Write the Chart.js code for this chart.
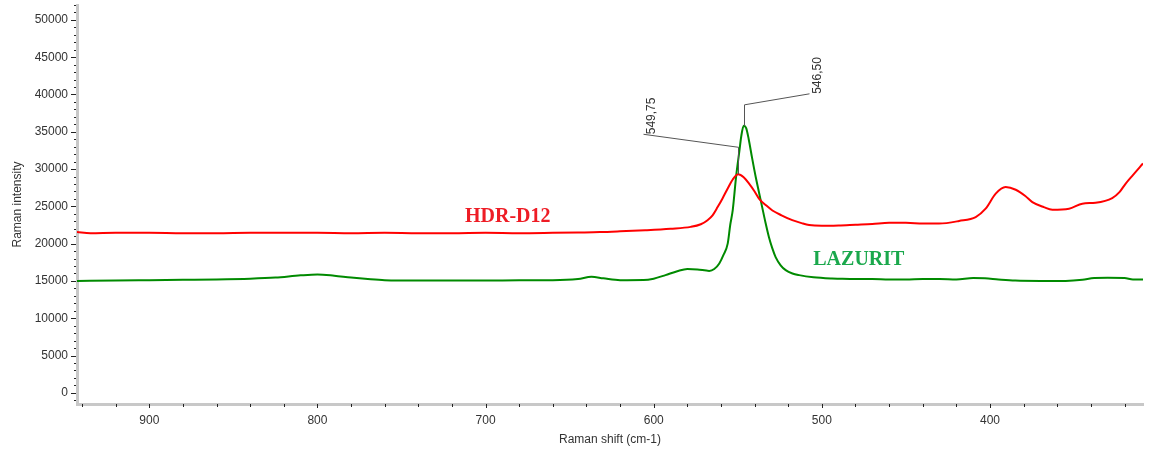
<!DOCTYPE html>
<html>
<head>
<meta charset="utf-8">
<script src="https://cdn.jsdelivr.net/npm/chart.js@4"></script>
<style>
  html, body { margin: 0; padding: 0; background: #fff; }
  #wrap { width: 1154px; height: 452px; }
</style>
</head>
<body>
<div id="wrap"><canvas id="raman"></canvas></div>
<script>
// HDR-D12 spectrum (red)
const hdrShift = [943, 935, 920, 900, 880, 860, 840, 820, 800, 780, 760, 740, 720, 700, 680, 660, 645, 632, 620, 605, 590, 578, 572, 568, 565, 562, 559, 556, 553, 549.75, 546.5, 543.3, 540, 537.4, 533, 529.4, 524, 517.6, 512, 507.6, 500, 490, 480, 470, 460, 450, 440, 430.3, 418.4, 408.5, 402.6, 396.6, 390.7, 384.7, 379, 374.8, 368, 362.9, 353, 345.1, 337.2, 327.3, 323, 319.4, 315, 309];
const hdrIntensity = [21550, 21400, 21450, 21450, 21400, 21400, 21450, 21450, 21450, 21400, 21450, 21400, 21400, 21450, 21400, 21450, 21500, 21550, 21650, 21800, 22000, 22250, 22600, 23150, 23800, 24900, 26100, 27400, 28600, 29300, 28900, 28050, 27000, 26050, 25100, 24450, 23800, 23150, 22750, 22500, 22400, 22450, 22550, 22650, 22800, 22800, 22700, 22690, 23040, 23570, 24690, 26700, 27580, 27230, 26400, 25580, 24900, 24560, 24690, 25360, 25490, 26110, 26900, 28030, 29200, 30750];

// LAZURIT spectrum (green)
const lazShift = [943, 920, 900, 880, 860, 840, 825, 810, 800, 790, 780, 770, 760, 740, 720, 700, 680, 660, 645, 637, 630, 620, 606, 600, 593, 586, 580, 574, 567, 564, 561, 558.5, 556, 554.5, 553, 551, 549, 548, 546.5, 545, 543.5, 541.5, 539.3, 537.5, 535.5, 533.5, 531.5, 529.5, 527.5, 524.5, 521.5, 517.5, 513.5, 505, 494, 490, 480, 470, 460, 450, 440, 430, 420, 410, 403, 395, 385, 370, 355, 345, 338, 330, 320, 315, 309];
const lazIntensity = [15000, 15050, 15100, 15150, 15200, 15300, 15450, 15750, 15870, 15700, 15450, 15250, 15100, 15050, 15050, 15050, 15100, 15100, 15250, 15550, 15350, 15100, 15110, 15300, 15780, 16300, 16600, 16550, 16350, 16600, 17350, 18500, 20000, 22500, 24500, 29000, 32500, 34300, 35800, 35500, 34000, 31500, 28900, 27000, 24900, 22800, 20900, 19400, 18200, 17100, 16450, 16000, 15780, 15500, 15330, 15300, 15250, 15250, 15200, 15200, 15250, 15250, 15200, 15400, 15350, 15200, 15050, 15000, 15000, 15150, 15400, 15420, 15400, 15200, 15200];

// peak annotations
const peakShift = [549.75, 546.50];
const peakIntensity = [29300, 35800];
const peakLabel = ['549,75', '546,50'];

// series names written on the plot
const seriesName = ['HDR-D12', 'LAZURIT'];
const seriesNameAt = [[686.8, 23640], [478, 17810]];
const seriesNameColor = ['#ee1c25', '#1aa84c'];

const yTicks = [];
for (let v = -1000; v <= 52000; v += 1000) yTicks.push(v);
const xTicks = [];
for (let v = 320; v <= 940; v += 20) xTicks.push(v);

function toPoints(xs, ys) {
  return xs.map((x, i) => ({ x: x, y: ys[i] }));
}

const tickMarks = {
  id: 'tickMarks',
  afterDraw(chart) {
    const { ctx, scales: { x, y } } = chart;
    ctx.save();
    ctx.strokeStyle = '#222';
    ctx.lineWidth = 1;
    ctx.beginPath();
    y.ticks.forEach(t => {
      const py = Math.round(y.getPixelForValue(t.value)) + 0.5;
      const len = t.value % 5000 === 0 ? 5 : 2;
      ctx.moveTo(y.right - 1 - len, py);
      ctx.lineTo(y.right - 1, py);
    });
    x.ticks.forEach(t => {
      const px = Math.round(x.getPixelForValue(t.value)) + 0.5;
      const len = t.value % 100 === 0 ? 4 : 3;
      ctx.moveTo(px, x.top);
      ctx.lineTo(px, x.top + len);
    });
    ctx.stroke();
    ctx.restore();
  }
};

const peakNotes = {
  id: 'peakNotes',
  afterDatasetsDraw(chart) {
    const { ctx, scales: { x, y } } = chart;
    const rise = [27, 21];
    const reach = [[-95, -13], [65, -11]];
    ctx.save();
    ctx.strokeStyle = '#555';
    ctx.lineWidth = 1;
    ctx.fillStyle = '#333';
    ctx.font = '12px "Liberation Sans", Arial, sans-serif';
    peakShift.forEach((s, i) => {
      const px = Math.round(x.getPixelForValue(s)) + 0.5;
      const py = y.getPixelForValue(peakIntensity[i]);
      const ey = py - rise[i];
      const lx = px + reach[i][0];
      const ly = ey + reach[i][1];
      ctx.beginPath();
      ctx.moveTo(px, py);
      ctx.lineTo(px, ey);
      ctx.lineTo(lx, ly);
      ctx.stroke();
      ctx.save();
      ctx.translate(lx + 2, ly);
      ctx.rotate(-Math.PI / 2);
      ctx.textAlign = 'left';
      ctx.textBaseline = 'top';
      ctx.fillText(peakLabel[i], 0, 0);
      ctx.restore();
    });
    ctx.font = 'bold 20px "Liberation Serif", "Times New Roman", serif';
    ctx.textAlign = 'center';
    ctx.textBaseline = 'middle';
    seriesName.forEach((name, i) => {
      ctx.fillStyle = seriesNameColor[i];
      ctx.fillText(name, x.getPixelForValue(seriesNameAt[i][0]), y.getPixelForValue(seriesNameAt[i][1]));
    });
    ctx.restore();
  }
};

const tickFont = { family: '"Liberation Sans", Arial, sans-serif', size: 12 };

new Chart(document.getElementById('raman'), {
  type: 'line',
  data: {
    datasets: [
      {
        label: seriesName[0],
        data: toPoints(hdrShift, hdrIntensity),
        borderColor: '#ff0000',
        borderWidth: 2,
        pointRadius: 0,
        cubicInterpolationMode: 'monotone',
        fill: false,
      },
      {
        label: seriesName[1],
        data: toPoints(lazShift, lazIntensity),
        borderColor: '#008a00',
        borderWidth: 2,
        pointRadius: 0,
        cubicInterpolationMode: 'monotone',
        fill: false,
      },
    ],
  },
  options: {
    responsive: true,
    maintainAspectRatio: false,
    animation: false,
    layout: { padding: { top: 5, right: 11, bottom: 0, left: 0 } },
    plugins: { legend: { display: false }, tooltip: { enabled: false } },
    scales: {
      x: {
        type: 'linear',
        reverse: true,
        min: 309,
        max: 943,
        afterBuildTicks: s => { s.ticks = xTicks.map(v => ({ value: v })); },
        afterFit: s => { s.height = 48; s.paddingLeft = 0; s.paddingRight = 0; },
        grid: { display: false, drawTicks: false },
        border: { color: '#c8c8c8', width: 3 },
        ticks: {
          autoSkip: false,
          maxRotation: 0,
          padding: 9,
          color: '#333',
          font: tickFont,
          callback: v => (v % 100 === 0 ? v : ''),
        },
        title: {
          display: true,
          text: 'Raman shift (cm-1)',
          color: '#333',
          font: tickFont,
          padding: { top: 0, bottom: 5 },
        },
      },
      y: {
        min: -1500,
        max: 52000,
        afterBuildTicks: s => { s.ticks = yTicks.map(v => ({ value: v })); },
        afterFit: s => { s.width = 77; s.paddingTop = 0; s.paddingBottom = 0; },
        grid: { display: false, drawTicks: false },
        border: { color: '#c8c8c8', width: 3 },
        ticks: {
          autoSkip: false,
          padding: 9,
          color: '#333',
          font: tickFont,
          callback: v => (v % 5000 === 0 ? v : ''),
        },
        title: {
          display: true,
          text: 'Raman intensity',
          color: '#333',
          font: tickFont,
          padding: { top: 10, bottom: 0 },
        },
      },
    },
  },
  plugins: [tickMarks, peakNotes],
});
</script>
</body>
</html>
